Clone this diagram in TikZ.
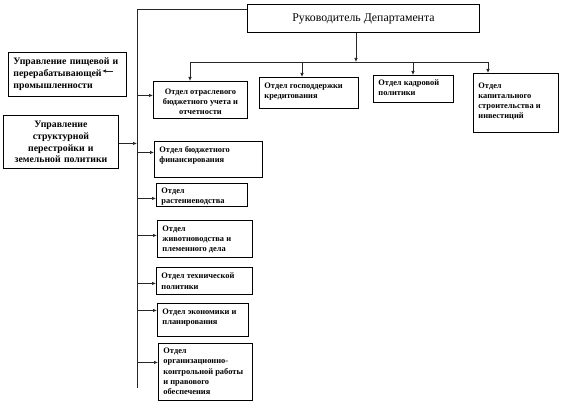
\documentclass[tikz,border=0pt]{standalone}
\usepackage{fontspec}
\setmainfont{Liberation Serif}
\usetikzlibrary{arrows.meta}
\newcommand{\lbt}[4][3]{\parbox[c][#3pt][t]{#2pt}{\vspace*{#1pt}\raggedright #4}}
\newcommand{\cbt}[4][3]{\parbox[c][#3pt][t]{#2pt}{\vspace*{#1pt}\centering #4}}
\begin{document}
\begin{tikzpicture}[x=1pt,y=-1pt,
  box/.style={draw, line width=0.9pt, anchor=north west, inner xsep=5pt, inner ysep=2pt,
    font=\bfseries\fontsize{8.4}{10.3}\selectfont},
  mgmt/.style={draw, line width=0.9pt, anchor=north west, inner sep=0pt, align=center,
    font=\bfseries\fontsize{9.8}{11.8}\selectfont},
  head/.style={draw, line width=0.9pt, anchor=north west, inner sep=0pt,
    font=\fontsize{11.8}{13}\selectfont},
  conn/.style={line width=0.7pt, draw=black!85},
  arr/.style={conn, -{Latex[length=4pt,width=3.5pt]}}]
\useasboundingbox (0,0) rectangle (563,404);

% head
\node[head, minimum width=232, minimum height=28] (head) at (247,4) {Руководитель Департамента};

% left management boxes
\node[mgmt, minimum width=118, minimum height=44, text width=108, align=left, inner xsep=5pt] (L1) at (8,52)
  {Управление пищевой и\\перерабатывающей\\промышленности};
\node[mgmt, minimum width=115, minimum height=53, text width=113] (L2) at (3,115)
  {Управление\\структурной\\перестройки и\\земельной политики};

% departments (top row)
\node[box] (b1) at (153,81) {\cbt[5]{84}{33}{Отдел отраслевого\\бюджетного учета и\\отчетности}};
\node[box] (b2) at (259,77) {\lbt[3]{89}{27}{Отдел господдержки\\кредитования}};
\node[box] (b3) at (373,75) {\lbt[2]{70}{23}{Отдел кадровой\\политики}};
\node[box] (b4) at (473,73) {\lbt[7]{75}{55}{Отдел\\капитального\\строительства и\\инвестиций}};

% departments (column)
\node[box] (b5) at (154,141) {\lbt[3]{98}{32}{Отдел бюджетного\\финансирования}};
\node[box] (b6) at (156,183) {\lbt[2.5]{81}{19}{Отдел\\растениеводства}};
\node[box] (b7) at (157,220) {\lbt[3]{85}{33}{Отдел\\животноводства и\\племенного дела}};
\node[box] (b8) at (156,267) {\lbt[3.5]{86}{23}{Отдел технической\\политики}};
\node[box] (b9) at (157,303) {\lbt[3]{81}{29}{Отдел экономики и\\планирования}};
\node[box] (b10) at (158,343) {\lbt[2.5]{84}{53}{Отдел\\организационно-\\контрольной~работы\\и правового\\обеспечения}};

% vertical spine
\coordinate (vt) at (137,9.5);
\coordinate (vb) at (137,388);
\draw[conn] (vb) -- (vt) -- (vt -| head.west);

% head to bus
\coordinate (bus) at (356,62);
\coordinate (busL) at (190,62);
\coordinate (busR) at (488,62);
\coordinate (d2) at (302,62);
\coordinate (d3) at (413,62);
\draw[arr] (head.south -| bus) -- (bus);
\draw[conn] (busL) -- (busR);
\draw[arr] (busL) -- (busL |- b1.north);
\draw[arr] (d2) -- (d2 |- b2.north);
\draw[arr] (d3) -- (d3 |- b3.north);
\draw[arr] (busR) -- (busR |- b4.north);

% spine to departments
\draw[arr] ([yshift=4.5pt]b1.west -| vt) -- ([yshift=4.5pt]b1.west);
\draw[arr] ([yshift=7pt]b5.west -| vt) -- ([yshift=7pt]b5.west);
\draw[arr] ([yshift=-3.5pt]b6.west -| vt) -- ([yshift=-3.5pt]b6.west);
\draw[arr] ([yshift=3.5pt]b7.west -| vt) -- ([yshift=3.5pt]b7.west);
\draw[arr] ([yshift=-2.5pt]b8.west -| vt) -- ([yshift=-2.5pt]b8.west);
\draw[arr] ([yshift=9.5pt]b9.west -| vt) -- ([yshift=9.5pt]b9.west);
\draw[arr] ([yshift=9.5pt]b10.west -| vt) -- ([yshift=9.5pt]b10.west);

% management links
\draw[arr] ([yshift=-1.5pt]L2.east) -- ([yshift=-1.5pt]L2.east -| vt);
\coordinate (sa1) at (113,71);
\coordinate (sa2) at (102,71);
\draw[arr] (sa1) -- (sa2);
\end{tikzpicture}
\end{document}
